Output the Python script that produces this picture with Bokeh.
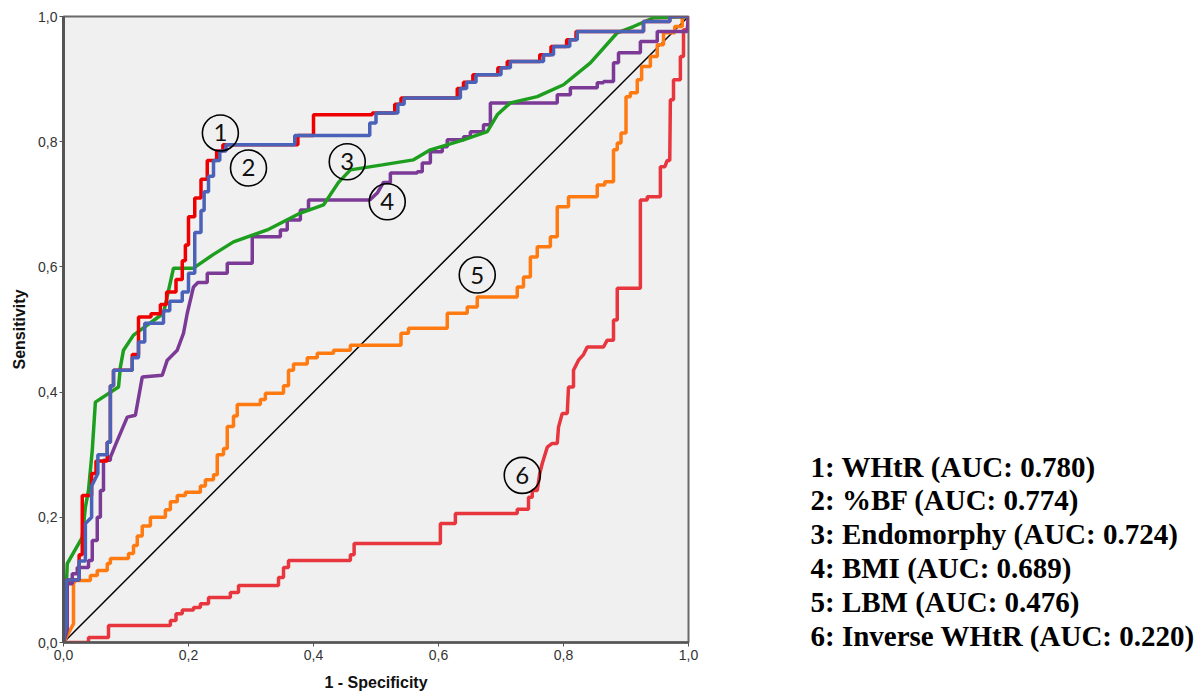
from bokeh.plotting import figure
from bokeh.layouts import row
from bokeh.models import Range1d, FixedTicker, CustomJSTickFormatter
from bokeh.core.properties import value
from bokeh.embed import file_html
from bokeh.resources import INLINE

# ---------------- data ----------------
tick_values = [0.0, 0.2, 0.4, 0.6, 0.8, 1.0]
tick_labels = ["0,0", "0,2", "0,4", "0,6", "0,8", "1,0"]

diag_x = [0.0, 1.0]
diag_y = [0.0, 1.0]

# 2: %BF (blue)
bf_x = [0, 0.005, 0.005, 0.025, 0.025, 0.035, 0.035, 0.045, 0.045, 0.055, 0.055, 0.07, 0.07, 0.075, 0.075,
        0.08, 0.08, 0.11, 0.11, 0.12, 0.12, 0.13, 0.13, 0.16, 0.16, 0.17, 0.17, 0.19, 0.19, 0.2, 0.2, 0.21,
        0.21, 0.22, 0.22, 0.225, 0.225, 0.232, 0.232, 0.24, 0.24, 0.25, 0.25, 0.26, 0.26, 0.37, 0.37, 0.49,
        0.49, 0.5, 0.5, 0.535, 0.535, 0.545, 0.545, 0.635, 0.635, 0.645, 0.645, 0.66, 0.66, 0.7, 0.7, 0.715,
        0.715, 0.768, 0.768, 0.784, 0.784, 0.81, 0.81, 0.822, 0.822, 0.928, 0.928, 0.97, 0.97, 1.0]
bf_y = [0, 0.03, 0.1, 0.1, 0.13, 0.13, 0.19, 0.2, 0.25, 0.27, 0.3, 0.3, 0.32, 0.32, 0.41,
        0.41, 0.435, 0.435, 0.455, 0.455, 0.48, 0.48, 0.51, 0.51, 0.53, 0.53, 0.545, 0.545, 0.56, 0.56, 0.59, 0.59,
        0.655, 0.655, 0.69, 0.69, 0.72, 0.72, 0.745, 0.745, 0.77, 0.77, 0.785, 0.785, 0.795, 0.795, 0.81, 0.81,
        0.83, 0.83, 0.846, 0.846, 0.86, 0.86, 0.87, 0.87, 0.885, 0.885, 0.895, 0.895, 0.907, 0.907, 0.918, 0.918,
        0.928, 0.928, 0.939, 0.939, 0.952, 0.952, 0.963, 0.963, 0.976, 0.976, 0.992, 0.992, 1.0, 1.0]

# 1: WHtR (red)
whtr_x = [0, 0.005, 0.005, 0.025, 0.025, 0.03, 0.03, 0.045, 0.045, 0.052, 0.052, 0.07, 0.07, 0.075, 0.075,
          0.08, 0.08, 0.11, 0.11, 0.12, 0.12, 0.14, 0.14, 0.155, 0.155, 0.165, 0.165, 0.18, 0.18, 0.19, 0.19,
          0.195, 0.195, 0.2, 0.2, 0.21, 0.21, 0.22, 0.22, 0.23, 0.23, 0.245, 0.245, 0.255, 0.255, 0.375, 0.375,
          0.4, 0.4, 0.494, 0.494, 0.53, 0.53, 0.54, 0.54, 0.63, 0.63, 0.64, 0.64, 0.655, 0.655, 0.695, 0.695,
          0.71, 0.71, 0.762, 0.762, 0.78, 0.78, 0.805, 0.805, 0.82, 0.82, 0.928, 0.928, 0.97, 0.97, 1.0]
whtr_y = [0, 0.03, 0.1, 0.1, 0.14, 0.14, 0.235, 0.235, 0.27, 0.27, 0.29, 0.29, 0.32, 0.32, 0.41,
          0.41, 0.435, 0.435, 0.46, 0.46, 0.52, 0.52, 0.525, 0.525, 0.54, 0.54, 0.56, 0.56, 0.58, 0.58, 0.61,
          0.61, 0.635, 0.635, 0.68, 0.68, 0.71, 0.71, 0.74, 0.74, 0.77, 0.77, 0.785, 0.785, 0.795, 0.795, 0.81,
          0.81, 0.843, 0.843, 0.846, 0.846, 0.86, 0.86, 0.87, 0.87, 0.885, 0.885, 0.895, 0.895, 0.907, 0.907, 0.918,
          0.918, 0.928, 0.928, 0.939, 0.939, 0.952, 0.952, 0.963, 0.963, 0.976, 0.976, 0.992, 0.992, 1.0, 1.0]

# 3: Endomorphy (green)
endo_x = [0, 0.005, 0.006, 0.03, 0.035, 0.04, 0.046, 0.051, 0.088, 0.091, 0.096, 0.112, 0.16, 0.176, 0.208,
          0.24, 0.272, 0.326, 0.379, 0.416, 0.44, 0.459, 0.51, 0.56, 0.587, 0.64, 0.678, 0.694, 0.715, 0.758,
          0.8, 0.843, 0.886, 0.912, 0.944, 1.0]
endo_y = [0, 0.1, 0.126, 0.168, 0.216, 0.243, 0.307, 0.384, 0.408, 0.44, 0.467, 0.491, 0.526, 0.598, 0.598,
          0.62, 0.64, 0.659, 0.686, 0.699, 0.735, 0.755, 0.763, 0.771, 0.787, 0.803, 0.816, 0.843, 0.862, 0.872,
          0.891, 0.926, 0.974, 0.984, 0.998, 1.0]

# 4: BMI (purple)
bmi_x = [0, 0.006, 0.006, 0.014, 0.014, 0.022, 0.022, 0.04, 0.04, 0.046, 0.046, 0.054, 0.054, 0.059, 0.059,
         0.064, 0.064, 0.075, 0.075, 0.085, 0.102, 0.102, 0.115, 0.115, 0.126, 0.126, 0.158, 0.158, 0.166,
         0.182, 0.192, 0.198, 0.208, 0.215, 0.23, 0.23, 0.262, 0.262, 0.296, 0.296, 0.302, 0.302, 0.347,
         0.347, 0.358, 0.358, 0.379, 0.379, 0.392, 0.392, 0.49, 0.502, 0.512, 0.523, 0.523, 0.566, 0.566,
         0.574, 0.574, 0.587, 0.587, 0.606, 0.606, 0.614, 0.614, 0.64, 0.64, 0.651, 0.651, 0.672, 0.672,
         0.683, 0.683, 0.79, 0.79, 0.811, 0.811, 0.854, 0.854, 0.864, 0.864, 0.88, 0.88, 0.888, 0.888,
         0.923, 0.923, 0.928, 0.928, 0.95, 0.95, 0.952, 0.952, 0.998, 1.0]
bmi_y = [0, 0.02, 0.094, 0.094, 0.11, 0.11, 0.12, 0.12, 0.131, 0.131, 0.163, 0.163, 0.2, 0.2, 0.243,
         0.243, 0.291, 0.291, 0.296, 0.32, 0.36, 0.36, 0.363, 0.363, 0.424, 0.424, 0.427, 0.427, 0.451,
         0.467, 0.494, 0.526, 0.568, 0.575, 0.575, 0.59, 0.59, 0.606, 0.606, 0.606, 0.606, 0.648, 0.648,
         0.659, 0.659, 0.675, 0.675, 0.691, 0.691, 0.707, 0.707, 0.718, 0.735, 0.735, 0.75, 0.75, 0.752,
         0.752, 0.766, 0.766, 0.784, 0.784, 0.792, 0.792, 0.803, 0.803, 0.808, 0.808, 0.816, 0.816, 0.827,
         0.827, 0.862, 0.862, 0.875, 0.875, 0.886, 0.886, 0.894, 0.894, 0.896, 0.896, 0.926, 0.926, 0.942,
         0.942, 0.96, 0.96, 0.96, 0.96, 0.976, 0.976, 0.976, 0.976, 1.0]

# 5: LBM (orange)
lbm_x = [0, 0.016, 0.016, 0.019, 0.043, 0.043, 0.054, 0.054, 0.07, 0.07, 0.075, 0.075, 0.104, 0.104, 0.112,
         0.112, 0.118, 0.118, 0.126, 0.126, 0.139, 0.139, 0.163, 0.163, 0.171, 0.171, 0.182, 0.182, 0.195,
         0.195, 0.219, 0.219, 0.227, 0.227, 0.24, 0.24, 0.246, 0.246, 0.256, 0.256, 0.262, 0.262, 0.272,
         0.272, 0.278, 0.278, 0.315, 0.315, 0.323, 0.323, 0.352, 0.352, 0.36, 0.36, 0.368, 0.368, 0.39,
         0.39, 0.406, 0.406, 0.432, 0.432, 0.459, 0.459, 0.54, 0.54, 0.552, 0.552, 0.614, 0.614, 0.646,
         0.646, 0.662, 0.662, 0.726, 0.726, 0.736, 0.736, 0.747, 0.747, 0.758, 0.758, 0.779, 0.779, 0.79,
         0.79, 0.808, 0.808, 0.854, 0.854, 0.866, 0.866, 0.88, 0.88, 0.886, 0.886, 0.892, 0.892, 0.9, 0.9,
         0.907, 0.907, 0.918, 0.918, 0.925, 0.925, 0.939, 0.939, 0.95, 0.95, 0.96, 0.96, 0.978, 0.978,
         0.99, 0.99, 1.0]
lbm_y = [0, 0.03, 0.094, 0.099, 0.099, 0.107, 0.107, 0.115, 0.115, 0.126, 0.126, 0.134, 0.134, 0.142, 0.142,
         0.155, 0.155, 0.17, 0.17, 0.186, 0.186, 0.2, 0.2, 0.212, 0.212, 0.225, 0.225, 0.235, 0.235,
         0.24, 0.24, 0.25, 0.25, 0.26, 0.26, 0.268, 0.268, 0.3, 0.3, 0.31, 0.31, 0.345, 0.345,
         0.362, 0.362, 0.38, 0.38, 0.388, 0.388, 0.398, 0.398, 0.41, 0.41, 0.435, 0.435, 0.445, 0.445,
         0.455, 0.455, 0.462, 0.462, 0.467, 0.467, 0.475, 0.475, 0.494, 0.494, 0.502, 0.502, 0.526, 0.526,
         0.536, 0.536, 0.552, 0.552, 0.568, 0.568, 0.584, 0.584, 0.616, 0.616, 0.632, 0.632, 0.648, 0.648,
         0.696, 0.696, 0.712, 0.712, 0.731, 0.731, 0.736, 0.736, 0.787, 0.787, 0.798, 0.798, 0.814, 0.814, 0.872,
         0.872, 0.878, 0.878, 0.899, 0.899, 0.92, 0.92, 0.936, 0.936, 0.955, 0.955, 0.974, 0.974, 0.984,
         0.984, 1.0, 1.0]

# 6: Inverse WHtR (crimson)
inv_x = [0, 0.04, 0.04, 0.072, 0.072, 0.171, 0.171, 0.18, 0.18, 0.19, 0.19, 0.208, 0.208, 0.219, 0.219,
         0.232, 0.232, 0.267, 0.267, 0.28, 0.28, 0.344, 0.344, 0.352, 0.352, 0.36, 0.36, 0.459, 0.459, 0.465,
         0.465, 0.603, 0.603, 0.627, 0.627, 0.726, 0.726, 0.744, 0.744, 0.75, 0.75, 0.758, 0.762, 0.766,
         0.774, 0.782, 0.79, 0.792, 0.798, 0.806, 0.808, 0.816, 0.816, 0.824, 0.832, 0.838, 0.864, 0.87,
         0.88, 0.88, 0.886, 0.886, 0.923, 0.923, 0.934, 0.934, 0.955, 0.955, 0.962, 0.966, 0.97, 0.971,
         0.976, 0.976, 0.987, 0.987, 0.992, 0.992, 0.998, 1.0]
inv_y = [0, 0, 0.008, 0.008, 0.027, 0.027, 0.035, 0.035, 0.046, 0.046, 0.052, 0.052, 0.056, 0.056, 0.062,
         0.062, 0.072, 0.072, 0.08, 0.08, 0.091, 0.091, 0.104, 0.104, 0.12, 0.12, 0.131, 0.131, 0.14, 0.14,
         0.158, 0.158, 0.19, 0.19, 0.206, 0.206, 0.213, 0.213, 0.232, 0.232, 0.243, 0.243, 0.27, 0.286,
         0.312, 0.318, 0.318, 0.344, 0.366, 0.366, 0.408, 0.408, 0.435, 0.451, 0.46, 0.472, 0.472, 0.483,
         0.483, 0.515, 0.515, 0.566, 0.566, 0.707, 0.707, 0.712, 0.712, 0.76, 0.76, 0.77, 0.77, 0.867,
         0.867, 0.899, 0.899, 0.936, 0.936, 0.979, 0.979, 1.0]

# circled curve numbers
ann_text = ["1", "2", "3", "4", "5", "6"]
ann_x = [0.251, 0.296, 0.454, 0.518, 0.662, 0.734]
ann_y = [0.814, 0.758, 0.768, 0.704, 0.587, 0.267]

legend_lines = ["1: WHtR (AUC: 0.780)", "2: %BF (AUC: 0.774)", "3: Endomorphy (AUC: 0.724)",
                "4: BMI (AUC: 0.689)", "5: LBM (AUC: 0.476)", "6: Inverse WHtR (AUC: 0.220)"]

# ---------------- main ROC figure ----------------
p = figure(frame_width=625, frame_height=626, output_backend="svg", toolbar_location=None,
           x_range=Range1d(0, 1), y_range=Range1d(0, 1),
           min_border_left=63, min_border_right=12, min_border_top=16, min_border_bottom=55)

p.background_fill_color = "#f0f0f0"
p.border_fill_color = "white"
p.outline_line_color = "#6a6a6a"
p.outline_line_width = 2
p.grid.visible = False

for ax in (p.xaxis[0], p.yaxis[0]):
    ax.ticker = FixedTicker(ticks=tick_values)
    ax.formatter = CustomJSTickFormatter(args=dict(labels=tick_labels),
                                         code="return labels[Math.round(tick * 5)];")
    ax.minor_tick_line_color = None
    ax.major_tick_in = 0
    ax.major_tick_out = 4
    ax.major_tick_line_color = "#555555"
    ax.major_label_text_font = "Liberation Sans"
    ax.major_label_text_font_size = "14px"
    ax.major_label_text_color = "#333333"
    ax.axis_label_text_font = "Liberation Sans"
    ax.axis_label_text_font_style = "bold"
    ax.axis_label_text_font_size = "16px"
    ax.axis_label_text_color = "#111111"

p.xaxis.axis_label = "1 - Specificity"
p.yaxis.axis_label = "Sensitivity"
p.xaxis.axis_line_color = "#555555"
p.xaxis.axis_line_width = 2.5
p.yaxis.axis_line_color = "#555555"
p.yaxis.axis_line_width = 3
p.xaxis.major_label_standoff = 3
p.yaxis.major_label_standoff = 2
p.xaxis.axis_label_standoff = 11
p.yaxis.axis_label_standoff = 7

lw = 3.5
p.line(diag_x, diag_y, line_color="black", line_width=1.5)
p.line(inv_x, inv_y, line_color="#e8363f", line_width=lw)
p.line(lbm_x, lbm_y, line_color="#ff7a10", line_width=lw)
p.line(bmi_x, bmi_y, line_color="#7b3a96", line_width=lw)
p.line(endo_x, endo_y, line_color="#1e9e1e", line_width=lw)
p.line(whtr_x, whtr_y, line_color="#ee0000", line_width=lw)
p.line(bf_x, bf_y, line_color="#4a62b8", line_width=lw)

p.scatter(ann_x, ann_y, marker="circle", size=36, fill_color=None,
          line_color="black", line_width=1.6)
p.text(ann_x, ann_y, text=ann_text, text_font=value("Lato"), text_font_size="24px",
       text_align="center", text_baseline="middle", text_color="#111111")

# ---------------- legend text panel (page-pixel coordinates) ----------------
# frame covers x 700..1197, y 16..697 (y grows downward)
q = figure(frame_width=497, frame_height=681, output_backend="svg", toolbar_location=None,
           x_range=Range1d(700, 1197), y_range=Range1d(697, 16),
           min_border_left=0, min_border_right=0, min_border_top=16, min_border_bottom=0)
q.axis.visible = False
q.grid.visible = False
q.outline_line_color = None
q.background_fill_color = "white"
q.border_fill_color = "white"

leg_x = [810] * len(legend_lines)
leg_y = [466 + 33.8 * i for i in range(len(legend_lines))]
q.text(leg_x, leg_y, text=legend_lines, text_font=value("Liberation Serif"), text_font_style="bold",
       text_font_size="29px", text_align="left", text_baseline="middle", text_color="black")

layout = row(p, q)
open("out.html", "w").write(file_html(layout, INLINE))
